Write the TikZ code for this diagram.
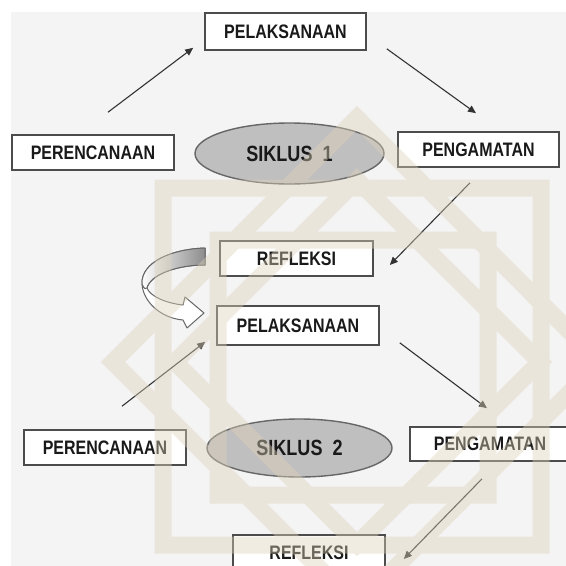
\documentclass[tikz,border=0pt]{standalone}
\usepackage{fontspec}
\newfontfamily\boxfont[FakeStretch=0.82]{Liberation Sans}
\usetikzlibrary{arrows.meta,shapes.geometric}

\definecolor{pagegrey}{RGB}{244,244,244}
\definecolor{marktan}{RGB}{222,210,186}

\begin{document}
\begin{tikzpicture}[x=1pt, y=-1pt]
        % Define styles for boxes, ovals and arrows
        \tikzset{
            stage box/.style={draw=black!70, line width=1.6pt, fill=white, minimum height=35pt, inner sep=0pt,
                font={\boxfont\bfseries\fontsize{19.5}{20}\selectfont}, text=black!90},
            cycle oval/.style={ellipse, draw=black!60, line width=1.4pt, fill=black!25, inner sep=0pt,
                font={\boxfont\bfseries\fontsize{22}{24}\selectfont}, text=black!90},
            grey arrow/.style={-{Triangle[length=8pt, width=7pt]}, line width=1.1pt, black!80},
            mark band/.style={draw=marktan, line width=17pt, line join=miter}
        }

        % Page background
        \useasboundingbox (0,0) rectangle (566,566);
        \fill[white] (0,0) rectangle (566,566);
        \fill[pagegrey] (11,12) rectangle (566,566);

        % Cycle 1
        \node[stage box, minimum width=161pt, minimum height=37pt] (pl1) at (285.5,31.5) {PELAKSANAAN};
        \node[stage box, minimum width=162pt] (pr1) at (93,152.5) {PERENCANAAN};
        \node[cycle oval, minimum width=189pt, minimum height=61pt] (sk1) at (289.5,153.5) {SIKLUS\ \ 1};
        \node[stage box, minimum width=161pt] (pg1) at (478.5,149.5) {PENGAMATAN};
        \node[stage box, minimum width=153pt] (rf1) at (296.5,258.5) {REFLEKSI};

        % Cycle 2
        \node[stage box, minimum width=162pt, minimum height=39pt] (pl2) at (298,325.5) {PELAKSANAAN};
        \node[stage box, minimum width=162pt] (pr2) at (105,447.5) {PERENCANAAN};
        \node[cycle oval, minimum width=185pt, minimum height=58pt] (sk2) at (299.5,448) {SIKLUS\ \ 2};
        \node[stage box, minimum width=160pt, minimum height=34pt] (pg2) at (490,444) {PENGAMATAN};
        \node[stage box, minimum width=152pt] (rf2) at (309,552.5) {REFLEKSI};

        % Arrows of the cycles
        \draw[grey arrow] ([shift={(15,-22)}]pr1.north) -- ([shift={(-11,-3)}]pl1.south west);
        \draw[grey arrow] ([shift={(20,-2)}]pl1.south east) -- ([shift={(-2.5,-18)}]pg1.north);
        \draw[grey arrow] ([shift={(-8.5,15)}]pg1.south) -- ([shift={(16,6.5)}]rf1.east);
        \draw[grey arrow] ([shift={(17,-23)}]pr2.north) -- ([shift={(-11,-4)}]pl2.south west);
        \draw[grey arrow] ([shift={(20,-3)}]pl2.south east) -- ([shift={(-3,-18)}]pg2.north);
        \draw[grey arrow] ([shift={(-8,17)}]pg2.south) -- ([shift={(18,6.5)}]rf2.east);

        % Curved block arrow from REFLEKSI to the next PELAKSANAAN
        \draw[black!60, line width=1pt, fill=white, line join=round]
            (205,248) .. controls (172,249) and (141,262) .. (142,284)
            .. controls (143,301) and (160,318) .. (183,320) -- (187,328) -- (204,313) -- (185,297) -- (183,305)
            .. controls (165,303) and (150,296) .. (147,288)
            .. controls (150,275) and (176,265) .. (205,265) -- cycle;
        \shade[left color=white, right color=black!45, draw=black!60, line width=1pt, line join=round]
            (205,248) .. controls (172,249) and (141,262) .. (142,284)
            .. controls (144,289) and (146,290) .. (147,288)
            .. controls (150,275) and (176,265) .. (205,265) -- cycle;

        % Watermark laid over the page
        \begin{scope}[transparency group, opacity=0.42]
            \draw[mark band] (163,188) rectangle (541,545);
            \draw[mark band] (218,240) rectangle (488,495);
            \draw[mark band] (113,362) -- (357,118) -- (600,362) -- (357,606) -- cycle;
            \draw[mark band] (175,362) -- (357,180) -- (540,362) -- (357,544) -- cycle;
        \end{scope}

    \end{tikzpicture}
\end{document}
